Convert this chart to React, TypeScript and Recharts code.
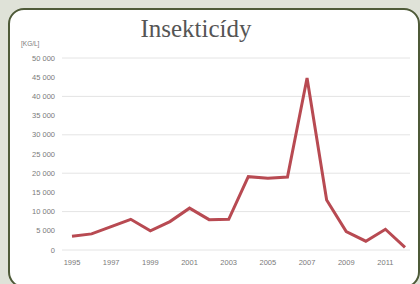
import { CartesianGrid, Line, LineChart, XAxis, YAxis } from "recharts";

// roky a spotřeba insekticidů (kg/l)
const years = [
  "1995", "1996", "1997", "1998", "1999", "2000", "2001", "2002", "2003",
  "2004", "2005", "2006", "2007", "2008", "2009", "2010", "2011", "2012",
];
const amounts = [
  3600, 4200, 6100, 8000, 5000, 7400, 10900, 7900, 8000,
  19100, 18700, 19000, 44800, 13000, 4800, 2300, 5400, 700,
];
const yTicks = [0, 5000, 10000, 15000, 20000, 25000, 30000, 35000, 40000, 45000, 50000];

const data = years.map((year, i) => ({ year, value: amounts[i] }));

const fmt = (v: number) => (v >= 1000 ? `${Math.floor(v / 1000)} ${String(v % 1000).padStart(3, "0")}` : String(v));

const tickStyle = { fontSize: 7.5, fill: "#7a7a7a", fontFamily: "Liberation Sans, Arial, sans-serif" };

export default function App() {
  return (
    <div style={{ position: "absolute", left: 0, top: 0, width: 420, height: 284, background: "#dfe2d8", overflow: "hidden" }}>
      <div
        style={{
          position: "absolute",
          left: 8,
          top: 8,
          width: 408,
          height: 276,
          background: "#fff",
          border: "2px solid #4e5a38",
          borderRadius: 16,
        }}
      />
      <div
        style={{
          position: "absolute",
          left: 0,
          top: 15,
          width: 392,
          textAlign: "center",
          fontFamily: "Liberation Serif, serif",
          fontSize: 25,
          color: "#555555",
        }}
      >
        Insekticídy
      </div>
      <div
        style={{
          position: "absolute",
          left: 21,
          top: 40,
          fontFamily: "Liberation Sans, Arial, sans-serif",
          fontSize: 6.5,
          color: "#7a7a7a",
        }}
      >
        [KG/L]
      </div>
      <div style={{ position: "absolute", left: 0, top: 0 }}>
        <LineChart width={420} height={284} data={data} margin={{ top: 58, right: 10, bottom: 0, left: 0 }}>
          <CartesianGrid vertical={false} stroke="#e4e4e4" />
          <XAxis
            dataKey="year"
            interval={1}
            axisLine={false}
            tickLine={false}
            tickSize={0}
            tickMargin={10}
            height={34}
            padding={{ left: 10, right: 5 }}
            tick={tickStyle}
          />
          <YAxis
            domain={[0, 50000]}
            ticks={yTicks}
            tickFormatter={fmt}
            axisLine={false}
            tickLine={false}
            tickSize={0}
            tickMargin={7}
            width={62}
            tick={tickStyle}
          />
          <Line
            type="linear"
            dataKey="value"
            stroke="#b84a52"
            strokeWidth={3}
            dot={false}
            isAnimationActive={false}
          />
        </LineChart>
      </div>
    </div>
  );
}
